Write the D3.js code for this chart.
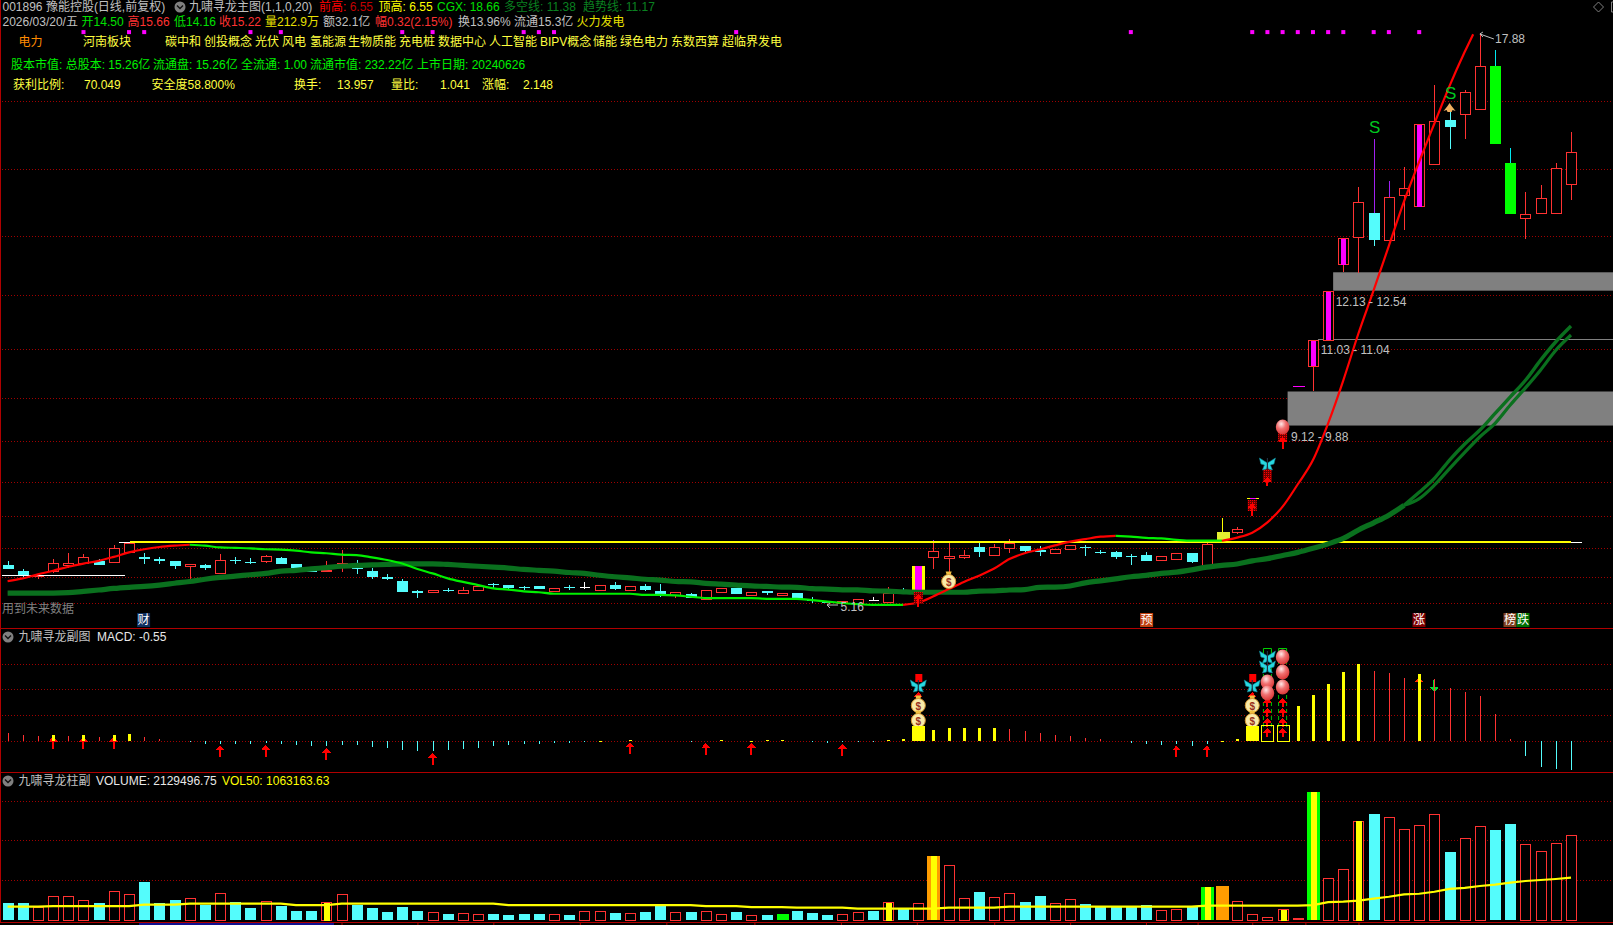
<!DOCTYPE html>
<html><head><meta charset="utf-8">
<script src="https://cdnjs.cloudflare.com/ajax/libs/d3/7.8.5/d3.min.js"></script>
<style>html,body{margin:0;padding:0;background:#000;overflow:hidden}svg{display:block}
text{font-family:"Liberation Sans","Noto Sans CJK SC",sans-serif;font-size:12px;dominant-baseline:central}</style>
</head><body><svg id="c" width="1613" height="925"></svg>
<script>
// ---- DATA ----
const opens=[6.01,5.88,5.77,5.88,6.01,6.04,6.10,6.06,6.30,6.18,
6.15,6.09,5.97,6.01,5.83,6.11,6.07,6.08,6.16,6.03,
5.89,5.87,6.01,5.95,5.87,5.73,5.65,5.43,5.41,5.46,
5.39,5.46,5.58,5.56,5.51,5.54,5.43,5.51,5.50,5.45,
5.56,5.45,5.54,5.43,5.34,5.36,5.26,5.39,5.49,5.34,
5.43,5.34,5.38,5.23,5.19,5.16,5.18,5.21,5.19,5.45,
5.43,6.19,6.17,6.19,6.41,6.24,6.38,6.43,6.34,6.26,
6.35,6.41,6.30,6.30,6.21,6.23,6.10,6.15,6.27,6.00,
6.56,6.75,7.49,8.24,9.12,10.00,10.45,11.04,12.71,13.31,
13.86,13.27,14.25,14.00,14.96,15.94,16.06,16.19,17.14,14.98,
13.76,13.85,13.85,14.50];
const highs=[6.09,5.92,5.78,6.14,6.27,6.25,6.14,6.45,6.51,6.27,
6.18,6.09,6.02,6.04,6.25,6.18,6.17,6.23,6.18,6.03,
5.89,6.09,6.34,6.13,5.94,5.80,5.69,5.45,5.46,5.49,
5.51,5.54,5.61,5.57,5.55,5.54,5.49,5.56,5.63,5.57,
5.63,5.55,5.58,5.58,5.40,5.38,5.45,5.49,5.50,5.40,
5.43,5.38,5.38,5.29,5.21,5.20,5.26,5.29,5.51,5.49,
5.98,6.56,6.50,6.34,6.50,6.47,6.59,6.43,6.43,6.36,
6.45,6.45,6.35,6.32,6.25,6.30,6.20,6.28,6.27,6.49,
7.05,6.85,7.49,8.24,9.12,10.00,11.03,12.13,13.30,14.44,
15.51,14.58,14.89,15.84,16.72,16.12,16.61,17.88,17.50,15.31,
14.33,14.49,14.98,15.66];
const lows=[5.92,5.71,5.69,5.83,5.93,6.04,6.01,6.06,6.30,6.04,
6.03,5.92,5.69,5.89,5.83,6.04,6.04,6.06,6.03,5.94,
5.85,5.86,5.86,5.81,5.70,5.67,5.40,5.28,5.39,5.41,
5.39,5.43,5.50,5.48,5.46,5.47,5.42,5.45,5.48,5.45,
5.45,5.45,5.43,5.29,5.28,5.27,5.26,5.39,5.36,5.34,
5.34,5.31,5.25,5.17,5.16,5.16,5.18,5.20,5.19,5.43,
5.30,5.91,5.86,6.14,6.19,6.24,6.28,6.30,6.21,6.26,
6.35,6.21,6.25,6.15,6.01,6.10,6.10,6.13,6.06,6.00,
6.56,6.69,7.49,8.24,9.12,10.00,9.88,11.04,12.54,12.53,
13.13,13.27,13.48,14.00,14.96,15.29,15.51,16.19,15.40,13.85,
13.28,13.85,13.85,14.16];
const closes=[5.92,5.78,5.78,6.06,6.06,6.18,6.01,6.38,6.51,6.14,
6.09,5.98,6.02,5.94,6.11,6.10,6.06,6.20,6.03,5.94,
5.86,5.89,6.06,5.91,5.74,5.70,5.40,5.39,5.46,5.44,
5.46,5.54,5.56,5.49,5.50,5.47,5.49,5.50,5.50,5.57,
5.47,5.53,5.45,5.34,5.40,5.28,5.45,5.49,5.36,5.40,
5.39,5.38,5.25,5.22,5.17,5.20,5.26,5.20,5.38,5.43,
5.98,6.33,6.21,6.24,6.30,6.42,6.50,6.32,6.30,6.36,
6.45,6.40,6.29,6.18,6.20,6.10,6.20,6.28,6.07,6.47,
6.74,6.81,7.49,8.24,9.12,10.00,11.03,12.13,13.30,14.10,
13.26,14.23,14.41,15.84,15.91,15.78,16.56,17.14,15.40,13.85,
13.85,14.19,14.86,15.22];
const trendLine=[5.65,5.71,5.80,5.88,5.97,6.04,6.10,6.19,6.29,6.36,
6.41,6.44,6.46,6.44,6.40,6.39,6.38,6.36,6.35,6.33,
6.29,6.27,6.24,6.23,6.18,6.12,6.04,5.92,5.82,5.71,
5.63,5.56,5.485,5.46,5.42,5.40,5.366,5.366,5.366,5.366,
5.366,5.366,5.34,5.34,5.33,5.30,5.27,5.27,5.27,5.27,
5.254,5.254,5.254,5.225,5.19,5.16,5.135,5.12,5.12,5.12,
5.17,5.31,5.47,5.63,5.77,5.93,6.14,6.27,6.355,6.445,
6.53,6.585,6.64,6.66,6.64,6.615,6.60,6.57,6.55,6.55,
6.55,6.62,6.73,6.96,7.31,7.81,8.35,9.17,10.13,11.18,
12.14,13.13,14.12,15.01,15.86,16.70,17.46];
const trendTail=17.85;
const longLine=[5.38,5.38,5.38,5.38,5.39,5.42,5.45,5.485,5.51,5.53,
5.56,5.60,5.64,5.69,5.73,5.76,5.79,5.82,5.87,5.89,
5.92,5.95,5.98,6.00,6.01,6.02,6.035,6.035,6.035,6.02,
6.00,5.98,5.96,5.94,5.91,5.89,5.87,5.84,5.82,5.78,
5.745,5.72,5.69,5.67,5.64,5.63,5.60,5.58,5.56,5.54,
5.53,5.515,5.51,5.48,5.47,5.455,5.455,5.43,5.425,5.41,
5.40,5.40,5.40,5.40,5.425,5.43,5.45,5.46,5.51,5.515,
5.54,5.61,5.655,5.70,5.745,5.775,5.82,5.85,5.90,5.96,
6.00,6.03,6.10,6.15,6.22,6.29,6.38,6.48,6.60,6.79,
6.95,7.12,7.34];
const longUpper=[7.34,7.63,7.94,8.35,8.71,9.02,9.39,9.76,10.13,10.58,10.99,11.34];
const longLower=[7.34,7.49,7.79,8.16,8.52,8.87,9.17,9.58,9.96,10.36,10.80,11.14];
const macdValues=[.16,.12,.10,.12,.10,.12,.08,.12,.14,.08,
.045,0,-.013,-.05,-.05,-.05,-.05,-.03,-.05,-.07,
-.09,-.09,-.07,-.07,-.11,-.13,-.17,-.19,-.19,-.17,
-.15,-.13,-.09,-.07,-.05,-.05,-.03,-.03,-.013,.01,
0,.025,0,0,0,-.013,0,.025,0,.01,
.025,.025,0,-.013,-.03,-.013,-.013,-.013,.025,.045,
.295,.22,.26,.26,.26,.26,.24,.20,.16,.13,
.10,.065,.045,0,-.03,-.05,-.07,-.05,-.09,-.05,
.01,.045,.295,.295,.295,.68,.89,1.10,1.33,1.49,
1.35,1.31,1.22,1.28,1.20,1.03,.95,.87,.53,.045,
-.28,-.49,-.53,-.55];
const volumes=[.43,.43,.335,.595,.595,.49,.43,.72,.645,.955,
.43,.50,.545,.385,.67,.45,.30,.47,.35,.225,
.225,.45,.645,.375,.30,.20,.325,.225,.19,.15,
.17,.14,.15,.125,.15,.15,.14,.125,.22,.22,
.175,.17,.20,.36,.19,.20,.22,.14,.20,.115,
.125,.15,.225,.175,.125,.14,.19,.225,.45,.29,
.42,1.61,1.38,.545,.70,.57,.67,.45,.60,.42,
.52,.40,.35,.335,.335,.375,.24,.27,.32,.83,
.855,.47,.14,.07,.27,.04,3.22,1.05,1.27,2.49,
2.66,2.58,2.28,2.38,2.655,1.71,2.05,2.35,2.26,2.41,
1.90,1.725,1.93,2.13];
const vol50=[.335,.335,.335,.35,.35,.35,.35,.35,.35,.385,.385,.385,
.41,.41,.41,.41,.41,.41,.41,.375,.375,.375,
.41,.41,.41,.41,.41,.41,.41,.41,.41,.41,.41,
.375,.375,.375,.375,.375,.375,.375,.375,.375,.375,.375,.375,.375,
.35,.35,.35,.325,.325,.325,.31,.31,.31,.31,
.285,.285,.285,.285,.285,.285,.31,.31,.31,.31,
.335,.335,.335,.335,.335,.335,.335,.335,.335,.335,.335,.335,.335,
.36,.36,.36,.36,.36,.36,.36,
.375,.45,.46,.485,.535,.585,.645,.66,.71,.78,.805,.855,.89,.94,.98,1.005,1.03,1.063];
const mainGrid=[16.36,14.85,13.36,12.03,10.83,9.73,8.77,7.85,7.10,6.38,5.73,5.15];
const macdGrid=[1.49,1.01,.50,0];
const volGrid=[1,2,3];
const gapLow=[9.12,12.13], gapHigh=[9.88,12.54], gapStart=[84,87];
const gapLabels=["9.12 - 9.88","12.13 - 12.54","11.03 - 11.04"];
const levelYellow=6.52, levelWhite=5.78, levelGrey=11.04;
const dotIdx=[5,8,9,16,18,26,28,34,35,36,48,74,82,83,84,85,86,87,88,90,91,93];
const monthTicks=[22,27,32,37.7,43.4,49.2,54.9,59.9,65,70,75,78.4,82,85.5,89];
const magentaCore=[86,87,88,93], doji=[38,57], purpleWick=[61,90,91], greenBody=[98,99];
const macdYellow=[3,5,7,8,39,41,47,49,50,51,58,59,61,62,63,64,65,80,81,85,86,87,88,89,93];
const macdBlock=[60,82], macdHollow=[83,84];
const macdArrowIdx=[3,5,7,14,17,21,28,41,46,49,55,77,79];
const macdArrowTip=[.09,.09,.09,-.08,-.07,-.12,-.22,-.02,-.03,-.03,-.05,-.08,-.08];
const headerL1=["001896 豫能控股(日线,前复权)","九啸寻龙主图(1,1,0,20)","前高: 6.55","顶高: 6.55","CGX: 18.66","多空线: 11.38","趋势线: 11.17"];
const headerL2=["2026/03/20/五","开14.50","高15.66","低14.16","收15.22","量212.9万","额32.1亿","幅0.32(2.15%)","换13.96%","流通15.3亿","火力发电"];
const tags=["电力","河南板块","碳中和","创投概念","光伏","风电","氢能源","生物质能","充电桩","数据中心","人工智能","BIPV概念","储能","绿色电力","东数西算","超临界发电"];
const infoL4=["股本市值: 总股本: 15.26亿","流通盘: 15.26亿","全流通: 1.00","流通市值: 232.22亿","上市日期: 20240626"];
const infoL5=["获利比例:","70.049","安全度58.800%","换手:","13.957","量比:","1.041","涨幅:","2.148"];

// ---- SCALES ----
const svg=d3.select("#c");
const x=d3.scaleLinear().domain([0,103]).range([7.6,1571]);
const yP=d3.scaleLinear().domain([5.16,17.88]).range([603,33]);
const yM=d3.scaleLinear().domain([0,1]).range([741.3,689.1]);
const yV=d3.scaleLinear().domain([0,1]).range([920,880.2]);
const RED="#ff3232",CY="#54fcfc",GRID="#a00000",BORDER="#b00000",GREY="#c0c0c0";
svg.append("rect").attr("width",1613).attr("height",925).attr("fill","#000");

function grid(vals,sc,x1=2){svg.append("g").attr("shape-rendering","crispEdges").selectAll("line").data(vals).join("line")
 .attr("x1",x1).attr("x2",1613).attr("y1",d=>Math.round(sc(d))+.5).attr("y2",d=>Math.round(sc(d))+.5)
 .attr("stroke",GRID).attr("stroke-dasharray","1 2");}
grid(mainGrid,yP);grid(macdGrid,yM);grid(volGrid,yV);

// gaps
const gapG=svg.append("g");
gapLow.forEach((l,k)=>gapG.append("rect").attr("x",x(gapStart[k])+5).attr("width",1613-x(gapStart[k])-5)
 .attr("y",yP(gapHigh[k])).attr("height",yP(gapLow[k])-yP(gapHigh[k])).attr("fill","#808080"));
gapG.append("line").attr("x1",x(86)+5).attr("x2",1613).attr("y1",yP(levelGrey)).attr("y2",yP(levelGrey)).attr("stroke","#808080");

// candles
const cg=svg.append("g").attr("shape-rendering","crispEdges");
const idx=d3.range(opens.length);
idx.forEach(i=>{
 const o=opens[i],h=highs[i],l=lows[i],c=closes[i],cx=Math.round(x(i))+.5;
 if(i==83||i==84) return;
 const top=yP(Math.max(o,c)),bot=yP(Math.min(o,c));
 const isDown=c<o, isDoji=doji.includes(i), isGreen=greenBody.includes(i);
 if(i==82||i==85){
   cg.append("line").attr("x1",cx-6).attr("x2",cx+6).attr("y1",yP(c)).attr("y2",yP(c)).attr("stroke",i==82?"#ffff00":"#ff00ff");
   if(i==82)cg.append("line").attr("x1",cx-3).attr("x2",cx+3).attr("y1",yP(c)).attr("y2",yP(c)).attr("stroke","#ff00ff");
   return;
 }
 let col=isDoji?"#ffffff":isGreen?"#00e8f0":isDown?CY:RED;
 if(i==80)col="#ffff00";
 cg.append("line").attr("x1",cx).attr("x2",cx).attr("y1",yP(h)).attr("y2",yP(l)).attr("stroke",col);
 if(purpleWick.includes(i)) cg.append("line").attr("x1",cx).attr("x2",cx).attr("y1",yP(h)).attr("y2",top-(i==61?10:0)).attr("stroke","#a020f0");
 if(i==60){
   cg.append("rect").attr("x",cx-6.5).attr("width",13).attr("y",top).attr("height",bot-top).attr("fill","#ffff00");
   cg.append("rect").attr("x",cx-3.5).attr("width",7).attr("y",top).attr("height",bot-top).attr("fill","#ff00ff");
 }else if(i==80){
   cg.append("rect").attr("x",cx-6).attr("width",13).attr("y",top).attr("height",bot-top).attr("fill","#e4f030");
 }else if(isDoji){
   cg.append("line").attr("x1",cx-5).attr("x2",cx+5).attr("y1",top).attr("y2",top).attr("stroke",col);
 }else if(isDown){
   cg.append("rect").attr("x",cx-5.5).attr("width",11).attr("y",top).attr("height",Math.max(bot-top,1)).attr("fill",isGreen?"#00ff00":CY);
 }else{
   cg.append("rect").attr("x",cx-5).attr("width",10).attr("y",Math.round(top)+.5).attr("height",Math.max(Math.round(bot-top),1)).attr("fill","#000").attr("stroke",RED);
   if(magentaCore.includes(i)) cg.append("rect").attr("x",cx-2.5).attr("width",5).attr("y",top+1).attr("height",bot-top-1).attr("fill","#ff00ff");
 }
});

// levels
const lv=svg.append("g").attr("shape-rendering","crispEdges");
function hline(a,b,p,col,w){lv.append("line").attr("x1",a).attr("x2",b).attr("y1",yP(p)).attr("y2",yP(p)).attr("stroke",col).attr("stroke-width",w);}
hline(119,130,levelYellow,"#fff",1);hline(130,x(103),levelYellow,"#ffff00",2);hline(x(103),1582,levelYellow,"#fff",1);
hline(2,125,levelWhite,"#fff",1);

// long line (dark green)
const lineOf=(off)=>d3.line().curve(d3.curveMonotoneX).x((d,i)=>x(i+off)).y(d=>yP(d));
const lg=svg.append("g").attr("fill","none");
lg.append("path").attr("d",lineOf(0)(longLine)).attr("stroke","#0a701e").attr("stroke-width",5.2);
lg.append("path").attr("d",lineOf(92)(longUpper)).attr("stroke","#0a701e").attr("stroke-width",3.4);
lg.append("path").attr("d",lineOf(92)(longLower)).attr("stroke","#0a701e").attr("stroke-width",3.2);

// trend line coloured by direction, one path per run of same direction
const tg=svg.append("g").attr("fill","none");
const trendPts=trendLine.map((v,i)=>[i,v]).concat([[96.55,trendTail]]);
const trendPath=d3.line().curve(d3.curveMonotoneX).x(d=>x(d[0])).y(d=>yP(d[1]));
let runStart=0;
for(let i=1;i<trendPts.length;i++){
 const up=trendPts[i][1]>trendPts[i-1][1];
 const nextUp=i+1<trendPts.length?trendPts[i+1][1]>trendPts[i][1]:up;
 if(up!==nextUp||i==trendPts.length-1){
  tg.append("path").attr("d",trendPath(trendPts.slice(runStart,i+1))).attr("stroke",up?"#ff0000":"#00f000").attr("stroke-width",2.2);
  runStart=i;
 }
}

// dots
svg.append("g").selectAll("rect").data(dotIdx).join("rect").attr("x",d=>x(d)-2).attr("y",yP(17.9)-2).attr("width",4).attr("height",4).attr("fill","#ff00ff");

// icons
const defs=svg.append("defs");
const rg=defs.append("radialGradient").attr("id","bal").attr("cx","40%").attr("cy","30%").attr("r","75%");
rg.append("stop").attr("offset","0").attr("stop-color","#ffe8e8");rg.append("stop").attr("offset",".45").attr("stop-color","#f07070");rg.append("stop").attr("offset","1").attr("stop-color","#d83030");
const pat=defs.append("pattern").attr("id","hat").attr("width",2).attr("height",2).attr("patternUnits","userSpaceOnUse");
pat.append("rect").attr("width",2).attr("height",2).attr("fill","#700000");pat.append("rect").attr("width",1).attr("height",1).attr("fill","#ff0000");
const ig=svg.append("g");
function arrow(cx,tip,len,col,down){const s=down?-1:1,g=ig.append("g").attr("shape-rendering","crispEdges");
 g.append("path").attr("d",`M${cx},${tip}L${cx+4.5},${tip+5*s}L${cx-4.5},${tip+5*s}Z`).attr("fill",col);
 g.append("rect").attr("x",cx-1).attr("width",2).attr("y",down?tip-len:tip+4).attr("height",len-4).attr("fill",col);}
function hatch(cx,y0,y1,w=8){ig.append("rect").attr("x",cx-w/2).attr("y",y0).attr("width",w).attr("height",y1-y0).attr("fill","url(#hat)");}
function bag(cx,cy){const g=ig.append("g").attr("transform",`translate(${cx},${cy})`);
 g.append("path").attr("d","M-3,-9.5 L3,-9.5 L1.6,-5 L-1.6,-5Z").attr("fill","#f0c040");
 g.append("ellipse").attr("cy",.5).attr("rx",7).attr("ry",7).attr("fill","#f8eaa8").attr("stroke","#d89830");
 g.append("text").attr("text-anchor","middle").attr("y",1).style("font-size","10px").style("font-weight","bold").attr("fill","#983020").text("$");}
function fly(cx,cy){const g=ig.append("g").attr("transform",`translate(${cx},${cy})`);
 g.append("path").attr("d","M0,-1 L-8,-6 L-6.5,0 L-3,1 L-5,6 L-1,5 L0,2 L1,5 L5,6 L3,1 L6.5,0 L8,-6Z").attr("fill","#28d8e0").attr("stroke","#108090").attr("stroke-width",.6);
 g.append("line").attr("x1",0).attr("x2",0).attr("y1",-6).attr("y2",5).attr("stroke","#203040").attr("stroke-width",1.2);}
function balloon(cx,cy){ig.append("ellipse").attr("cx",cx).attr("cy",cy).attr("rx",6.8).attr("ry",7.5).attr("fill","url(#bal)");}
// main pane marks
hatch(x(60),592,604,9);arrow(x(60),594,13,"#ff0000");
hatch(x(82),500,511,9);arrow(x(82),503,13,"#ff0000");
hatch(x(83),468,482,9);arrow(x(83),477,9,"#ff0000");fly(x(83),464);
hatch(x(84),431,442,9);arrow(x(84),437,12,"#ff0000");balloon(x(84),427);
bag(x(62),581);
const sTxt=[[90,127],[95,93]];
sTxt.forEach(([i,y])=>svg.append("text").attr("x",x(i)+1).attr("y",y).attr("text-anchor","middle").style("font-size","17px").attr("fill","#00c820").text("S"));
ig.append("path").attr("d",`M${x(95)},${103} l2,3 l4,5 l-3,-1 l-1,2 h-4 l-1,-2 l-3,1 l4,-5Z`).attr("fill","#f0b060");

// ---- MACD pane ----
const mg=svg.append("g").attr("shape-rendering","crispEdges");
idx.forEach(i=>{const v=macdValues[i]; if(!v) return; const cx=Math.round(x(i))+.5,y0=yM(0),y1=yM(v),t=Math.min(y0,y1),h=Math.abs(y1-y0);
 if(macdBlock.includes(i)) mg.append("rect").attr("x",cx-6.5).attr("width",13).attr("y",t).attr("height",h).attr("fill","#ffff00");
 else if(macdHollow.includes(i)) mg.append("rect").attr("x",cx-6).attr("width",12).attr("y",t).attr("height",h).attr("fill","none").attr("stroke","#ffff00");
 else if(macdYellow.includes(i)) mg.append("rect").attr("x",cx-1.5).attr("width",3).attr("y",t).attr("height",Math.max(h,1.5)).attr("fill","#ffff00");
 else mg.append("line").attr("x1",cx).attr("x2",cx).attr("y1",y0).attr("y2",y1).attr("stroke",v>0?RED:CY);
});
macdArrowIdx.forEach((i,k)=>arrow(x(i),yM(macdArrowTip[k]),12,"#ff0000"));
[60,82].forEach(i=>{const c=x(i);
 ig.append("line").attr("x1",c-2).attr("x2",c-2).attr("y1",710).attr("y2",718).attr("stroke","#00c000");
 ig.append("rect").attr("x",c-3).attr("y",674).attr("width",7).attr("height",8).attr("fill","#ff0000");
 arrow(c,692,8,"#ff0000");ig.append("rect").attr("x",c-1).attr("y",695).attr("width",2).attr("height",10).attr("fill","#ff0000");
 fly(c,686);bag(c,705);bag(c,720);});
[83,84].forEach(i=>{const c=x(i);
 ig.append("path").attr("d",`M${c-4},653 V648.5 H${c+4} V653`).attr("fill","none").attr("stroke","#00d000");
 ig.append("line").attr("x1",c-4).attr("x2",c-4).attr("y1",653).attr("y2",730).attr("stroke","#00c000").attr("stroke-dasharray","4 3");
 ig.append("line").attr("x1",c+4).attr("x2",c+4).attr("y1",653).attr("y2",730).attr("stroke","#00c000").attr("stroke-dasharray","4 3");
 [698,708,718,728].forEach(t=>arrow(c,t,9,"#ff0000"));});
fly(x(83),657);fly(x(83),667);balloon(x(83),682);balloon(x(83),693);
balloon(x(84),657);balloon(x(84),672);balloon(x(84),687);
arrow(x(93),677,9,"#ff3000");arrow(x(94),692,12,"#00e030",true);

// ---- Volume pane ----
const vg=svg.append("g").attr("shape-rendering","crispEdges");
const yellowCore=[21,58,84,89], orangeCore=[61], orangeFull=[80], greenCore=[79,86];
idx.forEach(i=>{const v=volumes[i],cx=Math.round(x(i))+.5,t=yV(v),h=yV(0)-t;
 const rect=(w,f)=>vg.append("rect").attr("x",cx-w/2).attr("width",w).attr("y",t).attr("height",h).attr("fill",f);
 if(orangeCore.includes(i)){rect(13,"#ff9c00");rect(6,"#ffff00");}
 else if(orangeFull.includes(i)){rect(13,"#ff9c00");}
 else if(greenCore.includes(i)){rect(13,"#00ff00");rect(6,"#ffff00");}
 else if(i==51){rect(12,"#00ff00");}
 else if(i==85){rect(11,RED);}
 else if(closes[i]<opens[i]) rect(11,CY);
 else{vg.append("rect").attr("x",cx-5).attr("width",10).attr("y",Math.round(t)+.5).attr("height",Math.round(h)).attr("fill","#000").attr("stroke",RED);
  if(yellowCore.includes(i)) rect(6,"#ffff00").attr("y",t+.5);}
});
svg.append("path").attr("fill","none").attr("stroke","#ffff00").attr("stroke-width",2.2)
 .attr("d",d3.line().x((d,i)=>x(i)).y(d=>yV(d))(vol50));

// ---- borders & axis ticks ----
const bd=svg.append("g").attr("shape-rendering","crispEdges");
[628,772,922].forEach(y=>bd.append("line").attr("x1",0).attr("x2",1613).attr("y1",y+.5).attr("y2",y+.5).attr("stroke",BORDER));
bd.append("line").attr("x1",.5).attr("x2",.5).attr("y1",0).attr("y2",922).attr("stroke",BORDER);
bd.append("rect").attr("x",139).attr("y",923).attr("width",195).attr("height",2).attr("fill","#101090");
const ax=d3.axisBottom(x).tickValues(monthTicks).tickFormat("").tickSize(3).tickSizeOuter(0);
svg.append("g").attr("transform","translate(0,922)").call(ax).call(g=>{g.select(".domain").remove();g.selectAll("line").attr("stroke",BORDER);});

// ---- Texts ----
const tg2=svg.append("g");
function T(s,px,py,col){return tg2.append("text").attr("x",px).attr("y",py).attr("fill",col).text(s);}
function icon(cx,cy){tg2.append("circle").attr("cx",cx).attr("cy",cy).attr("r",5.5).attr("fill","#808080");
 tg2.append("path").attr("d",`M${cx-3},${cy-1.5}L${cx},${cy+1.5}L${cx+3},${cy-1.5}`).attr("fill","none").attr("stroke","#111").attr("stroke-width",1.4);}
[[2.5,GREY],[189,GREY]].forEach((p,k)=>T(headerL1[k],p[0],7,p[1]));
icon(180,7);
T("前高:",319,7,"#ff0000").append("tspan").attr("fill","#c00000").text(" 6.55");
T("顶高:",378.6,7,"#ffff00").append("tspan").attr("fill","#ffff00").text(" 6.55");
T(headerL1[4],437,7,"#00e000");
T(headerL1[5],504,7,"#0a8020");
T(headerL1[6],583,7,"#0a8020");
const l2x=[2.5,81.6,127.6,174,219,265,323,375,458,514,576.5],l2c=[GREY,"#00e000","#ff3232","#00e000","#ff3232","#e8e000",GREY,"#ff3232",GREY,GREY,"#e8e000"];
headerL2.forEach((s,k)=>T(s,l2x[k],21.5,l2c[k]));
const tx=[18.4,83,165,204,255,282,310,348,399,438,489,540,593,620,671,722];
tags.forEach((s,k)=>T(s,tx[k],42,k==0?"#ff8c00":"#ffff40"));
const l4x=[11,153,241,310,417];infoL4.forEach((s,k)=>T(s,l4x[k],65,"#00f000"));
const l5x=[13,84,151.5,294,337,391,440,482,523];infoL5.forEach((s,k)=>T(s,l5x[k],85,"#ffff40"));
T("用到未来数据",2,609,"#808080");
function badge(s,cx,bg){tg2.append("rect").attr("x",cx-6.5).attr("y",613).attr("width",13).attr("height",14).attr("fill",bg);
 T(s,cx,620,"#fff").attr("text-anchor","middle").style("font-size","12px");}
badge("财",143.6,"#103060");badge("预",1146.6,"#c04010");badge("涨",1419,"#800000");badge("榜",1510,"#804020");badge("跌",1523,"#007000");
T(gapLabels[0],1291,436.7,GREY);T(gapLabels[1],1335.7,301.7,GREY);T(gapLabels[2],1320.7,350,GREY);
T("17.88",1495,39,GREY);
tg2.append("path").attr("d",`M${x(97)},34 l3,-2 m-3,2 l3,3 m-3,-3 l14,5`).attr("fill","none").attr("stroke",GREY);
T("5.16",840.6,607,GREY);
tg2.append("path").attr("d","M827,605 l3,-2 m-3,2 l3,3 m-3,-3 h11").attr("fill","none").attr("stroke",GREY);
icon(8,637);T("九啸寻龙副图",18.4,637,GREY);T("MACD: -0.55",97,637,"#e8e8e8");
icon(8,781);T("九啸寻龙柱副",18.4,781,GREY);T("VOLUME: 2129496.75",96,781,"#e8e8e8");T("VOL50: 1063163.63",222,781,"#ffff00");
tg2.append("path").attr("d","M1598.5,2 L1603.5,7 L1598.5,12 L1593.5,7Z").attr("fill","none").attr("stroke","#808080");
tg2.append("path").attr("d","M1615,2 H1611.5 V12 H1615").attr("fill","none").attr("stroke","#808080");
</script></body></html>
